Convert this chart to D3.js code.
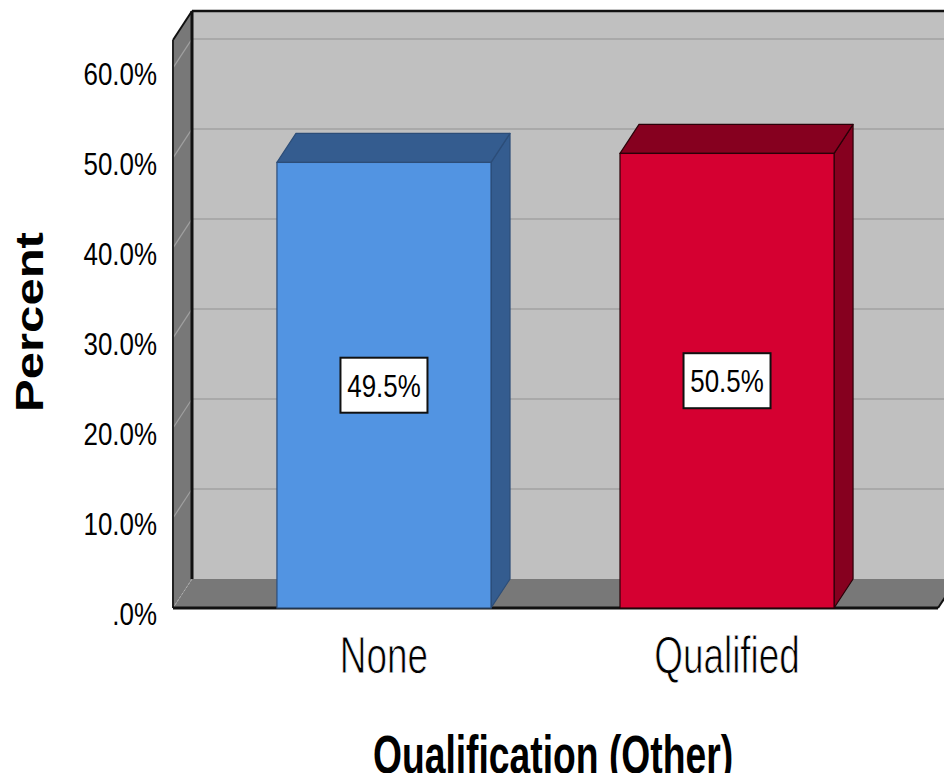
<!DOCTYPE html>
<html>
<head>
<meta charset="utf-8">
<script src="https://cdn.jsdelivr.net/npm/d3@7"></script>
<style>
  html, body { margin: 0; padding: 0; background: #ffffff; overflow: hidden; }
  svg { display: block; }
  text { font-family: "Liberation Sans", Arial, sans-serif; fill: #000; }
</style>
</head>
<body>
<svg id="chart" width="944" height="773"></svg>
<script>
// ---- data ----
const categories = ["None", "Qualified"];
const percentValues = [49.5, 50.5];
const valueLabels = ["49.5%", "50.5%"];
const tickValues = [0, 10, 20, 30, 40, 50, 60];
const tickLabels = [".0%", "10.0%", "20.0%", "30.0%", "40.0%", "50.0%", "60.0%"];
const frontColors = ["#5294e2", "#d50031"];
const darkColors = ["#345c8f", "#86001f"];
const edgeColors = ["#2c4d78", "#2a0008"];
const xTitle = "Qualification (Other)";
const yTitle = "Percent";

// ---- layout ----
const W = 944, H = 773;
const DX = 19, DY = 29;             // 3D depth offset
const svg = d3.select("#chart");

const y = d3.scaleLinear().domain([0, 63.1]).range([608, 40]);
const x = d3.scaleBand().domain(categories).range([173, 938])
  .paddingInner(0.376).paddingOuter(0.303);

const x0 = x.range()[0], x1 = x.range()[1];
const yTop = y(y.domain()[1]), y0 = y(0);

// back wall
svg.append("rect")
  .attr("x", x0 + DX).attr("y", yTop - DY)
  .attr("width", x1 - x0 + 40).attr("height", y0 - yTop)
  .attr("fill", "#c0c0c0");

// back wall gridlines
svg.append("g").selectAll("line").data(tickValues.filter(v => v > 0)).join("line")
  .attr("x1", x0 + DX).attr("x2", x1 + DX + 40)
  .attr("y1", d => y(d) - DY).attr("y2", d => y(d) - DY)
  .attr("stroke", "#a9a9a9").attr("stroke-width", 2);

// left wall
svg.append("path")
  .attr("d", `M${x0},${yTop} L${x0 + DX},${yTop - DY} L${x0 + DX},${y0 - DY} L${x0},${y0} Z`)
  .attr("fill", "#787878");
svg.append("g").selectAll("line").data(tickValues.filter(v => v > 0)).join("line")
  .attr("x1", x0).attr("x2", x0 + DX)
  .attr("y1", d => y(d)).attr("y2", d => y(d) - DY)
  .attr("stroke", "#a0a0a0").attr("stroke-width", 1.2);

// floor
svg.append("path")
  .attr("d", `M${x0},${y0} L${x0 + DX},${y0 - DY} L${x1 + DX},${y0 - DY} L${x1},${y0} Z`)
  .attr("fill", "#787878");
svg.append("line")
  .attr("x1", x0).attr("y1", y0).attr("x2", x0 + DX).attr("y2", y0 - DY)
  .attr("stroke", "#b0b0b0").attr("stroke-width", 1).attr("stroke-dasharray", "2,2");

// frame edges
svg.append("line").attr("x1", x0 + DX).attr("x2", x0 + DX)
  .attr("y1", yTop - DY).attr("y2", y0 - DY)
  .attr("stroke", "#111").attr("stroke-width", 3);
svg.append("line").attr("x1", x0 + DX).attr("x2", x1 + DX + 40)
  .attr("y1", yTop - DY).attr("y2", yTop - DY)
  .attr("stroke", "#111").attr("stroke-width", 2.5);
svg.append("line").attr("x1", x0).attr("x2", x0 + DX)
  .attr("y1", yTop).attr("y2", yTop - DY)
  .attr("stroke", "#111").attr("stroke-width", 2);
svg.append("line").attr("x1", x0).attr("x2", x0)
  .attr("y1", yTop).attr("y2", y0)
  .attr("stroke", "#222").attr("stroke-width", 2);
svg.append("line").attr("x1", x0).attr("x2", x1)
  .attr("y1", y0).attr("y2", y0)
  .attr("stroke", "#111").attr("stroke-width", 3);
svg.append("line").attr("x1", x1).attr("x2", x1 + DX)
  .attr("y1", y0).attr("y2", y0 - DY)
  .attr("stroke", "#111").attr("stroke-width", 2);

// bars
const bars = svg.append("g").selectAll("g").data(categories).join("g");
bars.each(function (c, i) {
  const g = d3.select(this);
  const bx = x(c), bw = x.bandwidth(), by = y(percentValues[i]);
  // side face
  g.append("path")
    .attr("d", `M${bx + bw},${by} L${bx + bw + DX},${by - DY} L${bx + bw + DX},${y0 - DY} L${bx + bw},${y0} Z`)
    .attr("fill", darkColors[i]).attr("stroke", edgeColors[i]).attr("stroke-width", 1.2)
    .attr("stroke-linejoin", "round");
  // top face
  g.append("path")
    .attr("d", `M${bx},${by} L${bx + DX},${by - DY} L${bx + bw + DX},${by - DY} L${bx + bw},${by} Z`)
    .attr("fill", darkColors[i]).attr("stroke", edgeColors[i]).attr("stroke-width", 1.2)
    .attr("stroke-linejoin", "round");
  // front face
  g.append("rect")
    .attr("x", bx).attr("y", by).attr("width", bw).attr("height", y0 - by)
    .attr("fill", frontColors[i]).attr("stroke", edgeColors[i]).attr("stroke-width", 1.2);
  // value label
  const cx = bx + bw / 2, cy = y(percentValues[i] / 2);
  g.append("rect")
    .attr("x", cx - 43.5).attr("y", cy - 27.5).attr("width", 87).attr("height", 55)
    .attr("fill", "#fff").attr("stroke", "#111").attr("stroke-width", 2);
  g.append("text")
    .attr("transform", `translate(${cx},${cy + 11.5}) scale(0.81,1)`)
    .attr("text-anchor", "middle").attr("font-size", 32)
    .text(valueLabels[i]);
});

// y axis
const yAxis = svg.append("g").attr("transform", "translate(157,0)")
  .call(d3.axisLeft(y).tickValues(tickValues).tickFormat((d, i) => tickLabels[i]).tickSize(0));
yAxis.select(".domain").remove();
yAxis.selectAll("text")
  .attr("x", 0).attr("dy", null).attr("y", 0)
  .attr("text-anchor", "end")
  .attr("font-size", 32).attr("font-family", "Liberation Sans, Arial, sans-serif")
  .attr("fill", "#000")
  .attr("transform", "translate(0,16.5) scale(0.81,1)");

// x axis
const xAxis = svg.append("g").attr("transform", `translate(0,${y0})`)
  .call(d3.axisBottom(x).tickSize(0));
xAxis.select(".domain").remove();
xAxis.selectAll("text")
  .attr("y", 0).attr("dy", null)
  .attr("font-size", 52).attr("font-family", "Liberation Sans, Arial, sans-serif")
  .attr("fill", "#000")
  .attr("stroke", "#fff").attr("stroke-width", 0.9)
  .attr("transform", "translate(0,65) scale(0.71,1)");

// axis titles
svg.append("text")
  .attr("transform", "translate(553,773) scale(0.69,1)")
  .attr("text-anchor", "middle").attr("font-size", 54).attr("font-weight", "bold")
  .text(xTitle);
svg.append("text")
  .attr("transform", "translate(43,322) rotate(-90) scale(1.29,1)")
  .attr("text-anchor", "middle").attr("font-size", 38).attr("font-weight", "bold")
  .text(yTitle);
</script>
</body>
</html>
